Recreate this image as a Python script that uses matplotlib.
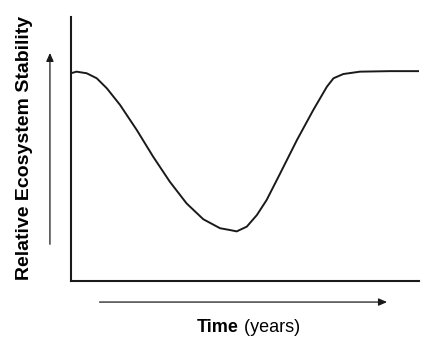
import numpy as np
import matplotlib.pyplot as plt
from matplotlib.patches import FancyArrowPatch

# curve (time 0-100, stability 0-100)
time = [0, 1.6, 4.5, 7.4, 10.3, 14.1, 18.9, 23.6, 28.4, 33.2, 38.0, 42.8,
        45.7, 47.6, 50.5, 53.4, 56.2, 60.1, 64.9, 69.6, 73.5, 75.4,
        78.2, 83.0, 91.7, 100]
stability = [78.7, 79.3, 78.7, 76.8, 73.0, 66.7, 57.2, 47.1, 37.6, 29.4, 23.4, 20.0,
             19.3, 18.8, 20.6, 25.0, 30.7, 40.8, 53.4, 64.8, 73.6, 76.8,
             78.4, 79.3, 79.5, 79.5]

plt.rcParams['font.family'] = ['Liberation Sans', 'DejaVu Sans']

fig = plt.figure(figsize=(4.38, 3.48), dpi=100)
ax = fig.add_axes([0.162, 0.1925, 0.795, 0.7586])
ax.plot(time, stability, color='#1a1a1a', lw=1.4, solid_joinstyle='round')
ax.set_xlim(0, 100)
ax.set_ylim(0, 100)
ax.set_xticks([])
ax.set_yticks([])
for s in ['top', 'right']:
    ax.spines[s].set_visible(False)
for s in ['left', 'bottom']:
    ax.spines[s].set_linewidth(1.5)
    ax.spines[s].set_color('#1a1a1a')

# arrows
fig.add_artist(FancyArrowPatch(
    (0.114, 0.290), (0.114, 0.856), transform=fig.transFigure,
    arrowstyle='-|>,head_length=5,head_width=2.2', color='#1a1a1a', lw=0.9))
fig.add_artist(FancyArrowPatch(
    (0.221, 0.132), (0.890, 0.132), transform=fig.transFigure,
    arrowstyle='-|>,head_length=5,head_width=2.2', color='#1a1a1a', lw=0.9))

fig.text(0.055, 0.575, 'Relative Ecosystem Stability', rotation=90,
         ha='center', va='center', fontsize=14, fontweight='bold')
fig.text(0.545, 0.058, 'Time', ha='right', va='center', fontsize=13,
         fontweight='bold')
fig.text(0.545, 0.058, ' (years)', ha='left', va='center', fontsize=13)

fig.savefig('out.png', dpi=100)
